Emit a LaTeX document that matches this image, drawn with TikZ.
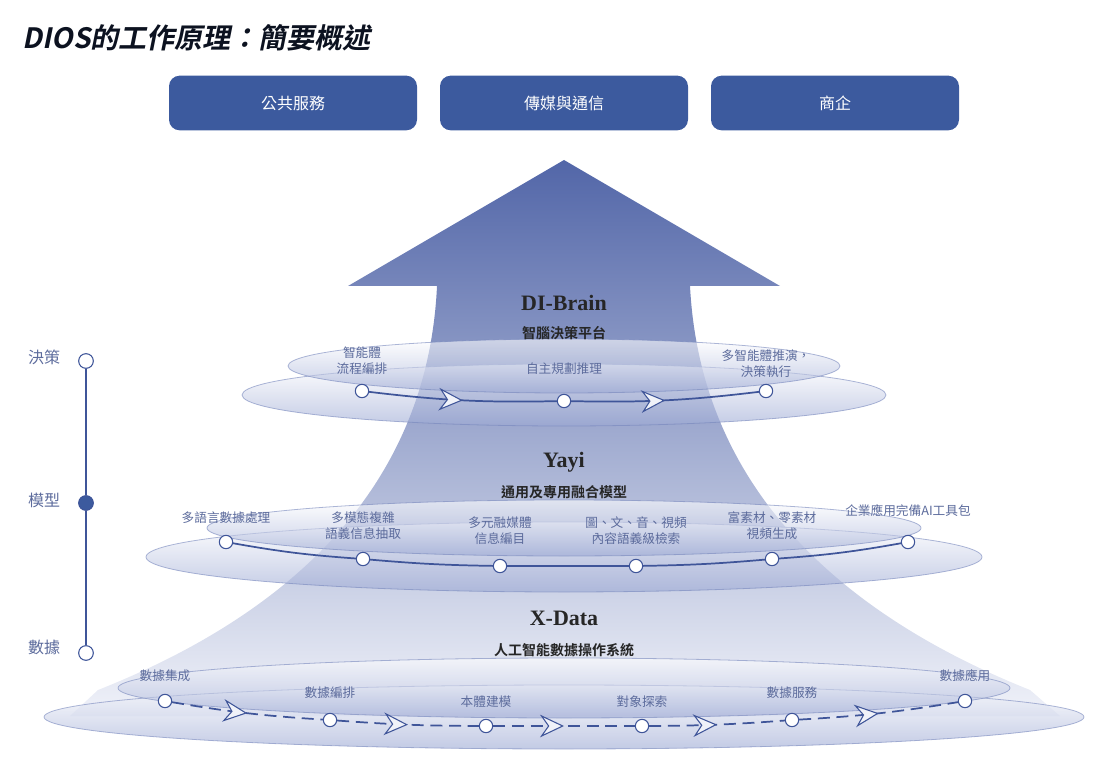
\documentclass[tikz,border=0pt]{standalone}
\usepackage{fontspec}
\setmainfont{Liberation Serif}
\newfontfamily\cjk{Noto Sans CJK TC}
\newfontfamily\cjkb{Noto Sans CJK TC Bold}[FakeSlant=0.2]
\newfontfamily\cjkbb{Noto Sans CJK TC Bold}
\usetikzlibrary{arrows.meta,decorations.markings,calc}
\definecolor{navy}{HTML}{3C5A9E}
\definecolor{lab}{HTML}{5C6B9C}
\definecolor{lin}{HTML}{3F5599}
\definecolor{arrtop}{HTML}{5266A8}
\definecolor{arrbot}{HTML}{F0F2F9}
\definecolor{disc}{HTML}{9AA7D3}
\tikzset{
 x=0.75pt,y=-0.75pt,
 topbox/.style={fill=navy,rounded corners=8pt,text=white,font=\cjk\fontsize{12}{14}\selectfont},
 lbl/.style={text=lab,font=\cjk\fontsize{9.5}{12}\selectfont,align=center},
 dot/.style={circle,draw=lin,fill=white,line width=0.8pt,minimum size=10pt,inner sep=0pt},
 discstyle/.style={top color=white,bottom color=disc,fill opacity=0.6,draw=disc!60!lin,draw opacity=0.6,line width=0.6pt},
 chev/.style={decoration={markings,mark=at position 0.5 with {\arrow{Stealth[length=18pt,width=17pt,inset=6pt,fill=arrbot,line width=0.8pt]}}},postaction={decorate}},
 flow/.style={draw=lin,line width=1.3pt},
 head/.style={font=\bfseries\fontsize{16.5}{18}\selectfont,text=black!85},
 sub/.style={font=\cjkbb\fontsize{10.5}{12}\selectfont,text=black!85},
 side/.style={text=lab,font=\cjk\fontsize{12}{14}\selectfont},
}
\begin{document}
\begin{tikzpicture}
\useasboundingbox (0,0) rectangle (1110,759);
\node[anchor=west,text=black!80!navy,font=\cjkb\fontsize{21}{24}\selectfont] (title) at (18,38) {DIOS的工作原理：簡要概述};
\node[topbox,minimum width=186pt,minimum height=41pt] (b1) at (293,103) {公共服務};
\node[topbox,minimum width=186pt,minimum height=41pt] (b2) at (564,103) {傳媒與通信};
\node[topbox,minimum width=186pt,minimum height=41pt] (b3) at (835,103) {商企};
% arrow
\shade[top color=arrtop,bottom color=arrbot,middle color=arrtop!50!arrbot]
 (564,160) -- (780,286) -- (690,286) .. controls (700,480) and (830,610) .. (1030,690)
 -- (1060,716) -- (70,716) -- (98,690) .. controls (300,610) and (428,480) .. (437,286)
 -- (348,286) -- cycle;
% discs
\path[discstyle] (564,395) ellipse (322 and 31);
\path[discstyle] (564,366) ellipse (276 and 27);
\path[discstyle] (564,557) ellipse (418 and 35);
\path[discstyle] (564,528) ellipse (357 and 28);
\path[discstyle] (564,717) ellipse (520 and 32);
\path[discstyle] (564,688) ellipse (446 and 30);
% headings
\node[head] (h1) at (564,303) {DI-Brain};
\node[sub] (s1) at (564,333) {智腦決策平台};
\node[head] (h2) at (564,462) {Yayi};
\node[sub] (s2) at (564,492) {通用及專用融合模型};
\node[head] (h3) at (564,618) {X-Data};
\node[sub] (s3) at (564,650) {人工智能數據操作系統};
% layer 1
\node[dot] (a1) at (362,391) {};
\node[dot] (a2) at (564,401) {};
\node[dot] (a3) at (766,391) {};
\draw[flow,chev] (a1) to[bend right=4] (a2);
\draw[flow,chev] (a2) to[bend right=4] (a3);
\node[lbl] at (362,361) {智能體\\流程編排};
\node[lbl] at (564,369) {自主規劃推理};
\node[lbl] at (766,364) {多智能體推演，\\決策執行};
% layer 2
\node[dot] (m1) at (226,542) {};
\node[dot] (m2) at (363,559) {};
\node[dot] (m3) at (500,566) {};
\node[dot] (m4) at (636,566) {};
\node[dot] (m5) at (772,559) {};
\node[dot] (m6) at (908,542) {};
\draw[flow] (m1) to[bend right=3] (m2);
\draw[flow] (m2) to[bend right=2] (m3);
\draw[flow] (m3) -- (m4);
\draw[flow] (m4) to[bend right=2] (m5);
\draw[flow] (m5) to[bend right=3] (m6);
\node[lbl] at (226,518) {多語言數據處理};
\node[lbl] at (363,526) {多模態複雜\\語義信息抽取};
\node[lbl] at (500,531) {多元融媒體\\信息編目};
\node[lbl] at (636,531) {圖、文、音、視頻\\內容語義級檢索};
\node[lbl] at (772,526) {富素材、零素材\\視頻生成};
\node[lbl] at (908,511) {企業應用完備AI工具包};
% layer 3
\node[dot] (x1) at (165,701) {};
\node[dot] (x2) at (330,720) {};
\node[dot] (x3) at (486,726) {};
\node[dot] (x4) at (642,726) {};
\node[dot] (x5) at (792,720) {};
\node[dot] (x6) at (965,701) {};
\draw[flow,dashed,dash pattern=on 9pt off 5pt,chev] (x1) to[bend right=3] (x2);
\draw[flow,dashed,dash pattern=on 9pt off 5pt,chev] (x2) to[bend right=2] (x3);
\draw[flow,dashed,dash pattern=on 9pt off 5pt,chev] (x3) -- (x4);
\draw[flow,dashed,dash pattern=on 9pt off 5pt,chev] (x4) to[bend right=2] (x5);
\draw[flow,dashed,dash pattern=on 9pt off 5pt,chev] (x5) to[bend right=3] (x6);
\node[lbl] at (165,676) {數據集成};
\node[lbl] at (330,693) {數據編排};
\node[lbl] at (486,702) {本體建模};
\node[lbl] at (642,702) {對象探索};
\node[lbl] at (792,693) {數據服務};
\node[lbl] at (965,676) {數據應用};
% side timeline
\node[dot,minimum size=11pt] (t1) at (86,361) {};
\node[dot,minimum size=11pt,fill=navy] (t2) at (86,503) {};
\node[dot,minimum size=11pt] (t3) at (86,653) {};
\draw[lin,line width=0.8pt] (t1) -- (t2) -- (t3);
\node[side] at (44,357) {決策};
\node[side] at (44,500) {模型};
\node[side] at (44,647) {數據};
\end{tikzpicture}
\end{document}
